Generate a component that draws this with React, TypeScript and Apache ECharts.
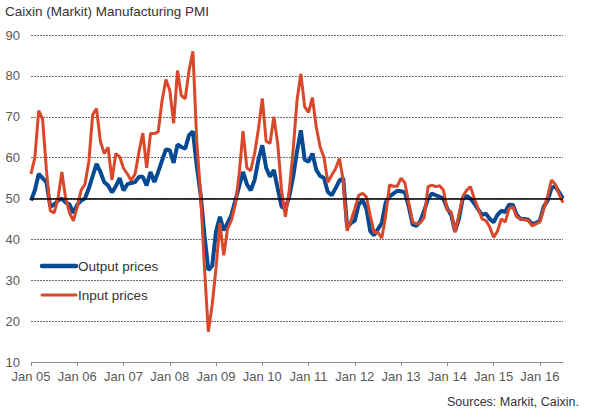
import React, { useEffect, useRef } from "react";
import * as echarts from "echarts";

const years = [2005, 2006, 2007, 2008, 2009, 2010, 2011, 2012, 2013, 2014, 2015, 2016];
const monthNames = ["Jan", "Feb", "Mar", "Apr", "May", "Jun", "Jul", "Aug", "Sep", "Oct", "Nov", "Dec"];
const lastMonthCount = 139; // Jan 05 .. Jul 16

const outputPrices = [
  49.5, 52, 56, 55, 54, 48, 48.5, 49.5, 50, 49, 48.5, 46.5,
  48.5, 49.5, 50, 52.5, 55.5, 58.5, 56.5, 54, 53.2, 51.5, 53, 55,
  52, 53.5, 53.8, 54, 55.3, 55.3, 53.2, 56.5, 54, 56.5, 59.3, 62,
  61.8, 58.7, 63.2, 62.6, 62.2, 65.5, 66.4, 58, 51, 41, 32.5, 33.5,
  42, 45.5, 42.2, 44, 46, 49.5, 53, 56.5, 53.5, 52, 54.5, 59.5,
  63, 57.5, 55.3, 57, 52.4, 48, 47.5, 50.5, 55.3, 61.5, 66.7, 59.5,
  59, 61, 57, 55.5, 55, 51.6, 50.8, 52.5, 54.4, 55, 43, 44,
  44.6, 48.5, 49.6, 47.5, 42, 41, 42.5, 44, 49, 50.5, 51.2, 51.9,
  51.8, 51.5, 48, 43.6, 43.3, 44.5, 47, 50, 51.2, 50.8, 50.4, 50,
  47.5, 46, 42, 45, 50, 50.6, 50, 48.8, 47.3, 46, 46.3, 45,
  44.2, 46, 47, 46.7, 48.5, 48.4, 46, 45, 45, 44.8, 43.8, 44,
  44.6, 48, 49.5, 52.5, 53, 51.5, 50,
];

const inputPrices = [
  56, 60, 71.5, 69.5, 57, 47, 46.5, 50, 56.5, 50, 46.5, 44.5,
  48, 52, 53.5, 59, 70.5, 72, 64, 61, 62.5, 54.5, 61, 60.2,
  57.4, 56, 54.4, 56, 61.4, 66, 57.5, 65.9, 65.9, 66.3, 74, 79.1,
  76.5, 68.4, 81.3, 75.2, 74.4, 81.3, 86, 64, 51, 33, 17.4, 24,
  33, 44, 36.1, 42.6, 44.7, 48.5, 56, 66.5, 57.5, 56.8, 61, 67,
  74.5, 64, 63.5, 70, 63.4, 52, 45.5, 52, 61.8, 74, 80.5, 72.4,
  71.1, 74.7, 67.5, 62.6, 60.1, 54, 55.7, 57.3, 59.8, 54.4, 42.1, 44.6,
  47.5, 50.8, 51.25, 50.4, 45.8, 41.7, 41.7, 40.3, 45.8, 53.3, 53, 53,
  55, 53.8, 48.8, 44.2, 43.8, 44, 45.4, 52.9, 53.3, 52.9, 53.1, 52,
  47.1, 46.7, 41.7, 46, 50.5, 52, 52.9, 50, 47.5, 45, 44.6, 43,
  40.5, 42, 45, 44.2, 47.5, 48, 45.5, 45, 44.8, 44.6, 43.3, 43.8,
  44.2, 47.5, 50.5, 54.5, 53.5, 51, 49,
];

const yTicks = { min: 10, max: 90, interval: 10 };
const neutralLevel = 50;
const titleText = "Caixin (Markit) Manufacturing PMI";
const sourceText = "Sources: Markit, Caixin.";
const seriesNames = ["Output prices", "Input prices"];

const categories: string[] = [];
years.forEach((y) => {
  monthNames.forEach((m) => {
    if (categories.length < lastMonthCount) {
      categories.push(m + " " + String(y).slice(2));
    }
  });
});

const FONT = "'Liberation Sans', Arial, sans-serif";
const BLUE = "#074a94";
const RED = "#d9482b";
const LABEL = "#595959";

export default function App() {
  const ref = useRef<HTMLDivElement>(null);
  useEffect(() => {
    if (!ref.current) return;
    const chart = echarts.init(ref.current, undefined, { renderer: "svg" });
    chart.setOption({
      animation: false,
      backgroundColor: "#ffffff",
      textStyle: { fontFamily: FONT },
      grid: { left: 31, right: 27, top: 35, bottom: 54, containLabel: false },
      xAxis: {
        type: "category",
        data: categories,
        boundaryGap: false,
        axisLine: { show: true, lineStyle: { color: "#8c8c8c", width: 1 } },
        axisTick: { show: true, interval: 11, length: 4, lineStyle: { color: "#8c8c8c" } },
        axisLabel: { interval: 11, color: LABEL, fontSize: 13, fontFamily: FONT, margin: 8 },
        splitLine: { show: false },
      },
      yAxis: {
        type: "value",
        min: yTicks.min,
        max: yTicks.max,
        interval: yTicks.interval,
        axisLine: { show: false },
        axisTick: { show: false },
        axisLabel: { color: LABEL, fontSize: 13, fontFamily: FONT, margin: 11 },
        splitLine: {
          show: true,
          lineStyle: { color: "#6e6e6e", type: [2, 1], width: 1 },
        },
      },
      graphic: [
        {
          type: "text",
          left: 5,
          top: 4,
          style: { text: titleText, fill: "#333333", font: "13.5px " + FONT },
        },
        {
          type: "text",
          right: 11,
          top: 395,
          style: { text: sourceText, fill: "#333333", font: "12.5px " + FONT },
        },
        {
          type: "line",
          shape: { x1: 42, y1: 266, x2: 76, y2: 266 },
          style: { stroke: BLUE, lineWidth: 4.5, lineCap: "round" },
          z: 6,
        },
        {
          type: "text",
          x: 78,
          y: 266,
          style: { text: seriesNames[0], fill: "#333333", font: "13.5px " + FONT, verticalAlign: "middle" },
          z: 6,
        },
        {
          type: "line",
          shape: { x1: 42, y1: 295, x2: 76, y2: 295 },
          style: { stroke: RED, lineWidth: 3, lineCap: "round" },
          z: 6,
        },
        {
          type: "text",
          x: 78,
          y: 295,
          style: { text: seriesNames[1], fill: "#333333", font: "13.5px " + FONT, verticalAlign: "middle" },
          z: 6,
        },
      ],
      series: [
        {
          name: seriesNames[0],
          type: "line",
          data: outputPrices,
          symbol: "none",
          lineStyle: { color: BLUE, width: 4 },
          z: 3,
          markLine: {
            silent: true,
            symbol: "none",
            label: { show: false },
            lineStyle: { color: "#000000", width: 1.5, type: "solid" },
            data: [{ yAxis: neutralLevel }],
          },
        },
        {
          name: seriesNames[1],
          type: "line",
          data: inputPrices,
          symbol: "none",
          lineStyle: { color: RED, width: 3 },
          z: 4,
        },
      ],
    });
    return () => chart.dispose();
  }, []);
  return (
    <div
      ref={ref}
      style={{ position: "fixed", left: 0, top: 0, width: 590, height: 416, background: "#fff" }}
    />
  );
}
